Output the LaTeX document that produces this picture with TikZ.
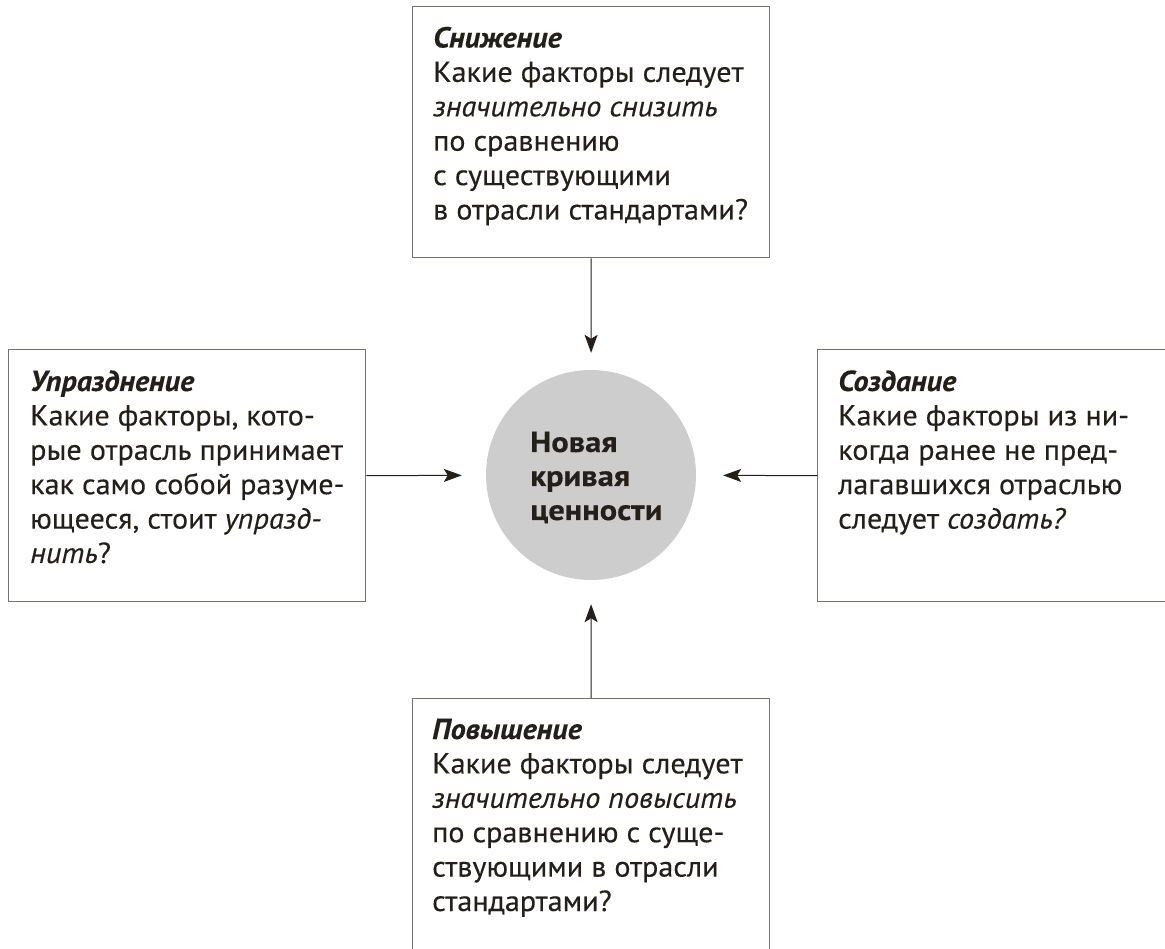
\documentclass[tikz,border=0pt]{standalone}
\usepackage{fontspec}
\setmainfont{PT Sans}[FakeStretch=1.04, FakeBold=0.25]
\newfontfamily\hubfont{PT Sans}[FakeStretch=1.12, FakeBold=0.3]
\usetikzlibrary{arrows.meta}

\definecolor{ink}{HTML}{231F1A}
\definecolor{frame}{HTML}{77726B}
\definecolor{disc}{HTML}{CDCDCD}

\newcommand\cardbody[1]{\parbox[t]{360pt}{\fontsize{29}{34.4}\selectfont\raggedright #1}}
\newcommand\cardtitle[1]{{\bfseries\itshape #1}}

\tikzset{
  card/.style={draw=frame, line width=1.3pt, rectangle, inner sep=0pt, anchor=north west},
  cardtext/.style={anchor=base west, inner sep=0pt, text=ink},
  hubdisc/.style={circle, fill=disc, minimum size=210pt, inner sep=0pt},
  link/.style={draw=ink, line width=1pt, -{Stealth[length=18pt,width=13pt,inset=4pt]}},
}

\begin{document}
\begin{tikzpicture}[x=1pt, y=-1pt]
  \useasboundingbox (0,0) rectangle (1165,949);
  \clip (0,0) rectangle (1165,949);
  \fill[white] (0,0) rectangle (1165,949);

  % central disc
  \node[hubdisc] (hub) at (591,475) {};
  \node[cardtext] (hubT) at (530,452)
    {\parbox[t]{180pt}{\hubfont\fontsize{29}{34}\selectfont\bfseries Новая\\кривая\\ценности}};

  % four question cards
  \node[card, minimum width=357pt, minimum height=251pt] (top) at (412,6) {};
  \node[card, minimum width=357pt, minimum height=252pt] (left) at (8,349) {};
  \node[card, minimum width=363pt, minimum height=252pt] (right) at (817,349) {};
  \node[card, minimum width=357pt, minimum height=262pt] (bottom) at (412,698) {};

  \node[cardtext] (topT) at (433,47.5) {\cardbody{%
    \cardtitle{Снижение}\\
    Какие факторы следует\\
    \textit{значительно снизить}\\
    по сравнению\\
    с существующими\\
    в отрасли стандартами?}};

  \node[cardtext] (leftT) at (30,391) {\cardbody{%
    \cardtitle{Упразднение}\\
    Какие факторы, кото-\\
    рые отрасль принимает\\
    как само собой разуме-\\
    ющееся, стоит \textit{упразд-}\\
    \textit{нить}?}};

  \node[cardtext] (rightT) at (838,391) {\cardbody{%
    \cardtitle{Создание}\\
    Какие факторы из ни-\\
    когда ранее не пред-\\
    лагавшихся отраслью\\
    следует \textit{создать?}}};

  \node[cardtext] (bottomT) at (432,739) {\cardbody{%
    \cardtitle{Повышение}\\
    Какие факторы следует\\
    \textit{значительно повысить}\\
    по сравнению с суще-\\
    ствующими в отрасли\\
    стандартами?}};

  % arrows into the disc
  \draw[link, shorten >=17pt] (top.south) -- (hub);
  \draw[link, shorten >=24pt] (left.east) -- (hub);
  \draw[link, shorten >=27pt] (right.west) -- (hub);
  \draw[link, shorten >=24pt] (bottom.north) -- (hub);
\end{tikzpicture}
\end{document}
